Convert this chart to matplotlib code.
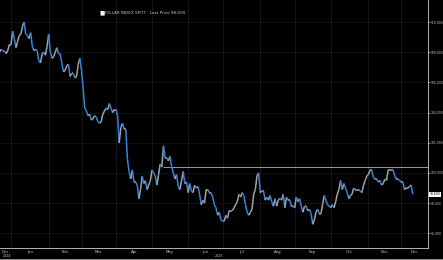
import numpy as np
import pandas as pd
import matplotlib
matplotlib.use("Agg")
import matplotlib.pyplot as plt
from matplotlib.collections import LineCollection
from matplotlib.patches import Rectangle

# DXY daily closes (weekdays, Dec 23 2024 - Dec 10 2025)
dec24 = [108.0, 108.2, 108.1, 108.1, 107.9, 108.1, 108.5]
jan = [108.5, 109.4, 108.9, 108.3, 108.7, 109.1, 109.2, 109.7, 110.0, 109.2,
       109.1, 108.9, 109.3, 108.4, 108.1, 108.2, 108.1, 107.4, 107.3, 107.9,
       108.0, 107.8, 108.4]
feb = [109.2, 108.0, 107.6, 107.7, 108.0, 108.3, 107.9, 107.9, 107.3, 106.7,
       106.8, 107.1, 107.2, 106.4, 106.6, 106.6, 106.3, 106.4, 107.2, 107.6]
mar = [106.8, 105.6, 104.3, 104.1, 103.8, 103.9, 103.5, 103.6, 103.8, 103.7,
       103.4, 103.3, 103.4, 103.9, 104.1, 104.3, 104.2, 104.6, 104.3, 104.0,
       104.2]
apr = [104.2, 103.8, 102.0, 103.0, 103.3, 102.9, 102.9, 100.9, 100.1, 99.6,
       100.2, 99.4, 99.4, 99.2, 98.3, 98.9, 99.8, 99.3, 99.5, 98.9,
       99.2, 99.5]
may = [100.2, 100.0, 99.8, 99.2, 99.9, 100.6, 100.4, 101.8, 101.0, 101.0,
       100.8, 101.1, 100.4, 100.0, 99.6, 99.9, 99.1, 98.9, 99.5, 100.1,
       99.3, 99.4]
jun = [98.7, 99.3, 98.8, 98.7, 99.2, 99.0, 99.1, 98.6, 97.9, 98.2,
       98.0, 98.9, 98.9, 98.7, 98.7, 98.4, 97.9, 97.7, 97.2, 97.4,
       96.9]
jul = [96.8, 96.8, 97.2, 97.0, 97.5, 97.5, 97.5, 97.7, 97.9, 98.1,
       98.6, 98.4, 98.7, 98.5, 97.9, 97.4, 97.2, 97.4, 97.6, 98.6,
       98.9, 99.8, 100.0]
aug = [98.7, 98.8, 98.8, 98.2, 98.4, 98.2, 98.5, 98.1, 97.8, 98.3,
       97.8, 98.2, 98.3, 98.2, 98.6, 97.7, 98.4, 98.2, 98.2, 97.8,
       97.8]
sep = [97.7, 98.4, 98.1, 98.3, 97.8, 97.4, 97.8, 97.8, 97.5, 97.6,
       97.3, 96.6, 96.9, 97.4, 97.6, 97.3, 97.3, 97.9, 98.5, 98.2,
       97.9, 97.8]
oct_ = [97.7, 97.9, 97.7, 98.1, 98.6, 98.9, 99.5, 98.9, 99.3, 99.0,
        98.7, 98.3, 98.5, 98.6, 99.0, 98.9, 98.9, 98.9, 98.8, 98.7,
        99.2, 99.5, 99.8]
nov = [99.9, 100.2, 100.2, 99.7, 99.6, 99.6, 99.4, 99.5, 99.2, 99.3,
       99.6, 99.5, 100.2, 100.2, 100.2, 100.2, 99.8, 99.6, 99.6, 99.5]
dec25 = [99.4, 99.4, 98.9, 99.0, 99.0, 99.1, 99.2, 98.6]

closes = np.array(dec24 + jan + feb + mar + apr + may + jun + jul + aug
                  + sep + oct_ + nov + dec25)
dates = pd.bdate_range("2024-12-23", "2025-12-10")
assert len(dates) == len(closes)

level_line = 100.4
level_from = "2025-05-12"
last_price = 98.600
legend_text = "DOLLAR INDEX SPOT - Last Price 98.600"
y_ticks = [96, 98, 100, 102, 104, 106, 108, 110]
months = ["Dec", "Jan", "Feb", "Mar", "Apr", "May", "Jun", "Jul", "Aug",
          "Sep", "Oct", "Nov", "Dec"]
month_starts = ["2024-12-01", "2025-01-01", "2025-02-01", "2025-03-01",
                "2025-04-01", "2025-05-01", "2025-06-01", "2025-07-01",
                "2025-08-01", "2025-09-01", "2025-10-01", "2025-11-01",
                "2025-12-01", "2026-01-01"]

BLUE = "#3583dc"
GREY = "#a3a3a3"
FG = "#c8c8c8"


def bday(d):
    # trading-day axis, like the terminal chart
    return np.busday_count(np.datetime64("2025-01-01"),
                           np.array(d, dtype="datetime64[D]"))


x = bday(dates.values.astype("datetime64[D]")).astype(float)
x_lo, x_hi = -6.7, 254.3

fig = plt.figure(figsize=(4.43, 2.60), dpi=100, facecolor="black")
ax = fig.add_axes([0, 12 / 260, 428 / 443, 248 / 260], facecolor="black")

# grid (very faint)
starts = bday(month_starts).astype(float)
for s in starts[1:-1]:
    ax.axvline(s, color="#1b1b1b", lw=0.6, zorder=0)
for t in y_ticks:
    ax.axhline(t, color="#141414", lw=0.6, zorder=0)

# price line coloured by direction
pts = np.column_stack([x, closes])
segs = np.stack([pts[:-1], pts[1:]], axis=1)
cols = [BLUE if b < a else GREY for a, b in zip(closes[:-1], closes[1:])]
ax.add_collection(LineCollection(segs, colors=cols, linewidths=1.1, zorder=3))

ax.hlines(level_line, bday(level_from), x_hi, color="#b5b5b5", lw=0.6, zorder=2)

ax.set_xlim(x_lo, x_hi)
ax.set_ylim(95.03, 111.46)

ax.yaxis.tick_right()
ax.set_yticks(y_ticks)
ax.set_yticklabels([f"{t:.3f}" for t in y_ticks])
ax.tick_params(axis="y", colors=FG, labelsize=2.2, length=1.2, width=0.5,
               pad=0.5)
ax.set_xticks([])
for side in ["top", "left"]:
    ax.spines[side].set_visible(False)
ax.spines["right"].set_color("#d0d0d0")
ax.spines["bottom"].set_color("#d0d0d0")
ax.spines["right"].set_linewidth(0.6)
ax.spines["bottom"].set_linewidth(0.6)

# month labels centred in the visible part of each month
trans = ax.get_xaxis_transform()
for i, m in enumerate(months):
    a = max(starts[i], x_lo)
    b = min(starts[i + 1], x_hi)
    ax.text((a + b) / 2, -0.016, m, transform=trans, ha="center",
            va="center", fontsize=2.8, color=FG)
ax.text(max((x_lo + starts[1]) / 2, -2.5), -0.034, "2024", transform=trans,
        ha="center", va="center", fontsize=2.4, color=FG)
ax.text((starts[1] + x_hi) / 2, -0.034, "2025", transform=trans,
        ha="center", va="center", fontsize=2.4, color=FG)

# last price tag
ax.annotate(f"{last_price:.3f}", xy=(1.0, last_price),
            xycoords=("axes fraction", "data"), xytext=(1.0, 0),
            textcoords="offset points", ha="left", va="center",
            fontsize=2.2, color="black", annotation_clip=False,
            bbox=dict(boxstyle="square,pad=0.2", fc="white", ec="none"))

# legend
ax.text(0.232, 0.947, "\u25A0", transform=ax.transAxes, fontsize=4,
        color="white", ha="left", va="center")
ax.text(0.241, 0.947, legend_text, transform=ax.transAxes, fontsize=3,
        color=FG, ha="left", va="center")

# light strip at the very bottom
fig.add_artist(Rectangle((0, 0), 1, 1.5 / 260, transform=fig.transFigure,
                         fc="#8a8a8a", ec="none"))

fig.savefig("out.png", dpi=100, facecolor="black")
